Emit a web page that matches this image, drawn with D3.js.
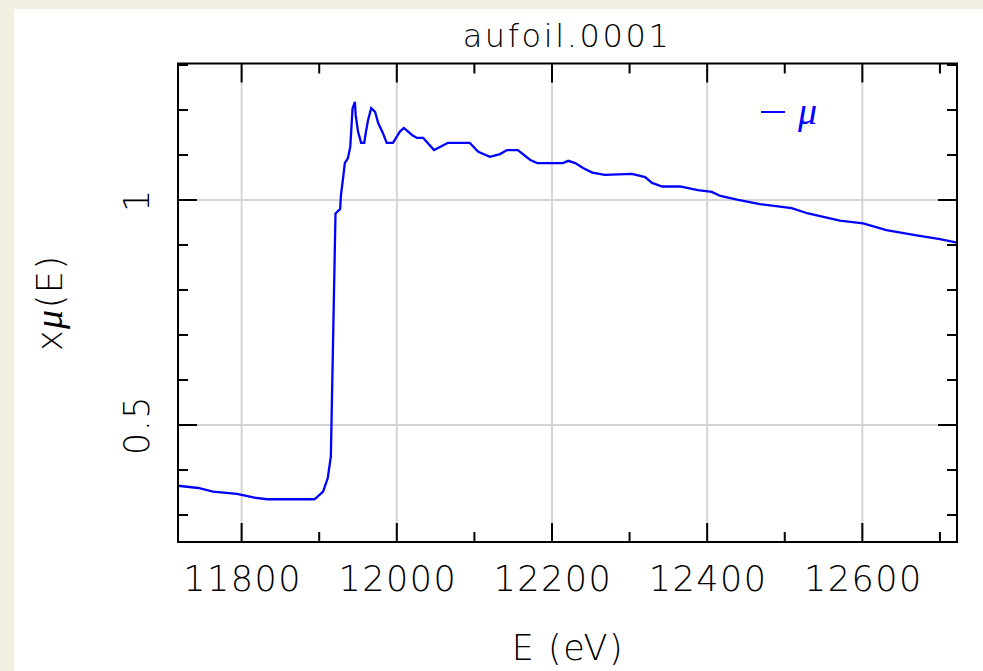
<!DOCTYPE html>
<html>
<head>
<meta charset="utf-8">
<script src="https://cdn.jsdelivr.net/npm/d3@7"></script>
<style>
  html, body { margin: 0; padding: 0; background: #f4f0e1; }
  svg { display: block; }
  text { font-family: "DejaVu Sans", "Liberation Sans", sans-serif; font-weight: 200; fill: #000; }
  .mu { font-family: "Liberation Serif", "DejaVu Serif", serif; font-style: italic; font-weight: 400; }
</style>
</head>
<body>
<svg id="chart" width="983" height="671"></svg>
<script>
// Energy scan of the Au foil (eV) and the measured absorption x·mu(E)
const energy = [
  11718, 11744, 11763, 11794, 11815, 11833, 11894, 11905, 11911, 11915,
  11918, 11921, 11927, 11928, 11931, 11933, 11937, 11940, 11943, 11946,
  11947, 11950, 11954, 11958, 11960, 11963, 11967, 11972, 11976, 11982,
  11987, 11995, 12004, 12009, 12020, 12026, 12034, 12048, 12066, 12090,
  12094, 12105, 12120, 12133, 12142, 12156, 12172, 12181, 12214, 12221,
  12230, 12240, 12252, 12268, 12303, 12320, 12329, 12342, 12365, 12388,
  12406, 12417, 12440, 12468, 12509, 12530, 12571, 12601, 12631, 12668,
  12700, 12722
];
const mu = [
  0.365, 0.360, 0.352, 0.347, 0.339, 0.335, 0.335, 0.352, 0.382, 0.430,
  0.700, 0.970, 0.980, 1.011, 1.052, 1.082, 1.093, 1.118, 1.204, 1.218,
  1.189, 1.152, 1.127, 1.127, 1.149, 1.178, 1.204, 1.196, 1.171, 1.149,
  1.127, 1.127, 1.152, 1.160, 1.144, 1.138, 1.138, 1.111, 1.127, 1.127,
  1.127, 1.107, 1.096, 1.102, 1.111, 1.111, 1.089, 1.082, 1.082, 1.087,
  1.082, 1.071, 1.061, 1.056, 1.058, 1.051, 1.038, 1.030, 1.030, 1.022,
  1.018, 1.009, 1.000, 0.991, 0.982, 0.970, 0.954, 0.948, 0.933, 0.922,
  0.913, 0.905
];

// Axis ticks
const xMajorTicks = [11800, 12000, 12200, 12400, 12600];
const xMinorTicks = [11800, 11900, 12000, 12100, 12200, 12300, 12400, 12500, 12600, 12700];
const yMajorTicks = [0.5, 1];
const yTickLabels = ["0.5", "1"];
const yMinorTicks = [0.3, 0.4, 0.5, 0.6, 0.7, 0.8, 0.9, 1.0, 1.1, 1.2, 1.3];

const titleText = "aufoil.0001";
const seriesName = "\u03bc";

const svg = d3.select("#chart");
const W = 983, H = 671;

// page panel
svg.append("rect").attr("x", 0).attr("y", 0).attr("width", W).attr("height", H).attr("fill", "#f4f0e1");
svg.append("rect").attr("x", 14).attr("y", 9).attr("width", W - 14).attr("height", H - 9).attr("fill", "#ffffff");

const plot = { left: 178, right: 957, top: 63.5, bottom: 542 };

const x = d3.scaleLinear().domain([11718, 12722]).range([plot.left, plot.right]);
const y = d3.scaleLinear().domain([0.24, 1.3033]).range([plot.bottom, plot.top]);

// grid lines
const grid = svg.append("g").attr("stroke", "#d4d4d4").attr("stroke-width", 2);
grid.selectAll("line.gx").data(xMajorTicks).join("line")
  .attr("x1", d => x(d)).attr("x2", d => x(d))
  .attr("y1", plot.top).attr("y2", plot.bottom);
grid.selectAll("line.gy").data(yMajorTicks).join("line")
  .attr("y1", d => y(d)).attr("y2", d => y(d))
  .attr("x1", plot.left).attr("x2", plot.right);

// data line
svg.append("clipPath").attr("id", "clip").append("rect")
  .attr("x", plot.left).attr("y", plot.top)
  .attr("width", plot.right - plot.left).attr("height", plot.bottom - plot.top);

const pts = energy.map((e, i) => [e, mu[i]]);
const line = d3.line().x(d => x(d[0])).y(d => y(d[1]));
svg.append("path").datum(pts)
  .attr("clip-path", "url(#clip)")
  .attr("fill", "none").attr("stroke", "#0000ff").attr("stroke-width", 2.3)
  .attr("stroke-linejoin", "miter")
  .attr("d", line);

// ticks: inward on all four sides
const majorLen = 19, minorLen = 10;
const ticks = svg.append("g").attr("stroke", "#000").attr("stroke-width", 2);
const isMajorX = d => xMajorTicks.includes(d);
const isMajorY = d => yMajorTicks.some(m => Math.abs(m - d) < 1e-9);

[plot.bottom, plot.top].forEach((edge, k) => {
  const dir = k === 0 ? -1 : 1;
  ticks.append("g").selectAll("line").data(xMinorTicks).join("line")
    .attr("x1", d => x(d)).attr("x2", d => x(d))
    .attr("y1", edge).attr("y2", d => edge + dir * (isMajorX(d) ? majorLen : minorLen));
});
[plot.left, plot.right].forEach((edge, k) => {
  const dir = k === 0 ? 1 : -1;
  ticks.append("g").selectAll("line").data(yMinorTicks).join("line")
    .attr("y1", d => y(d)).attr("y2", d => y(d))
    .attr("x1", edge).attr("x2", d => edge + dir * (isMajorY(d) ? majorLen : minorLen));
});

// frame
svg.append("rect")
  .attr("x", plot.left).attr("y", plot.top)
  .attr("width", plot.right - plot.left).attr("height", plot.bottom - plot.top)
  .attr("fill", "none").attr("stroke", "#000").attr("stroke-width", 2);

// x tick labels
svg.append("g").selectAll("text").data(xMajorTicks).join("text")
  .attr("x", d => x(d) + 1).attr("y", 591)
  .attr("text-anchor", "middle")
  .attr("font-size", 35).attr("letter-spacing", 1.5)
  .text(d => d);

// y tick labels (rotated)
svg.append("g").selectAll("text").data(yMajorTicks).join("text")
  .attr("transform", (d) => `translate(149,${y(d)}) rotate(-90)`)
  .attr("text-anchor", "middle")
  .attr("font-size", 35).attr("letter-spacing", 1.5)
  .text((d, i) => yTickLabels[i]);

// title
svg.append("text")
  .attr("x", 567).attr("y", 47)
  .attr("text-anchor", "middle")
  .attr("font-size", 32).attr("letter-spacing", 2.6)
  .text(titleText);

// x axis label
svg.append("text")
  .attr("x", 568).attr("y", 660)
  .attr("text-anchor", "middle")
  .attr("font-size", 35).attr("letter-spacing", 1.5)
  .text("E (eV)");

// y axis label
const yl = svg.append("text")
  .attr("transform", `translate(62,${(plot.top + plot.bottom) / 2}) rotate(-90)`)
  .attr("text-anchor", "middle")
  .attr("font-size", 35).attr("letter-spacing", 1.5);
yl.append("tspan").text("x");
yl.append("tspan").attr("class", "mu").attr("font-size", 38).text("\u03bc");
yl.append("tspan").text("(E)");

// legend
const lg = svg.append("g");
lg.append("line").attr("x1", 761).attr("x2", 785).attr("y1", 112).attr("y2", 112)
  .attr("stroke", "#0000ff").attr("stroke-width", 2);
lg.append("text").attr("class", "mu").attr("x", 798).attr("y", 124)
  .attr("font-size", 38)
  .style("fill", "#0000ff")
  .text(seriesName);
</script>
</body>
</html>
